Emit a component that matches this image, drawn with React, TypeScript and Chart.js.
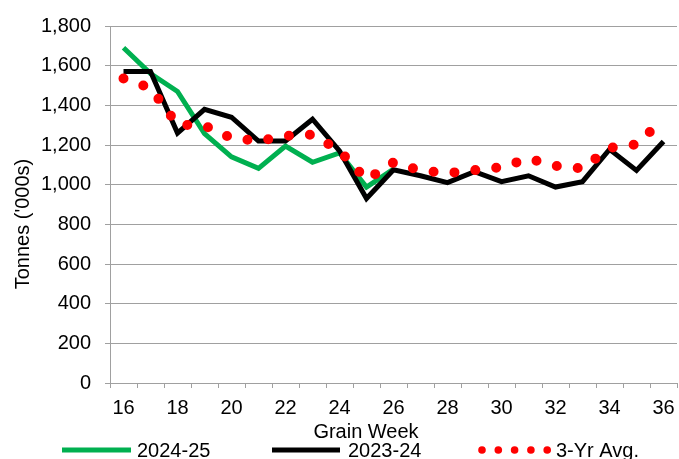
import React, { useEffect, useRef } from 'react';
import { Chart, registerables } from 'chart.js';

Chart.register(...registerables);

const weeks = ['16', '17', '18', '19', '20', '21', '22', '23', '24', '25', '26', '27', '28', '29', '30', '31', '32', '33', '34', '35', '36'];
const season2024 = [1690, 1560, 1470, 1257, 1140, 1082, 1195, 1113, 1160, 988, 1078];
const season2023 = [1570, 1570, 1260, 1380, 1340, 1220, 1220, 1330, 1170, 930, 1075, 1045, 1010, 1065, 1015, 1045, 988, 1015, 1178, 1072, 1218];
const avg3yr = [1535, 1487, 1302, 1298, 1235, 1220, 1246, 1252, 1172, 1025, 1112, 1072, 1058, 1073, 1088, 1132, 1095, 1082, 1185, 1203, 1330];
const yMin = 0;
const yMax = 1800;
const yStep = 200;
const legendLabels = ['2024-25', '2023-24', '3-Yr Avg.'];
const xTitle = 'Grain Week';
const yTitle = "Tonnes ('000s)";

const FONT = "'Liberation Sans', Arial, sans-serif";
const GRID = '#a0a0a0';
const GREEN = '#00b050';
const BLACK = '#000000';
const RED = '#ff0000';

const decorPlugin = {
  id: 'decor',
  afterDraw(chart: any) {
    const ctx = chart.ctx as CanvasRenderingContext2D;
    ctx.save();
    ctx.fillStyle = '#000';
    ctx.font = `20px ${FONT}`;
    ctx.textBaseline = 'alphabetic';
    // x title
    ctx.textAlign = 'center';
    ctx.fillText(xTitle, 366, 438);
    // y title
    ctx.save();
    ctx.translate(29, 224);
    ctx.rotate(-Math.PI / 2);
    ctx.textAlign = 'center';
    ctx.fillText(yTitle, 0, 0);
    ctx.restore();
    // legend
    const ly = 450;
    ctx.lineWidth = 5;
    ctx.lineCap = 'butt';
    ctx.strokeStyle = GREEN;
    ctx.beginPath();
    ctx.moveTo(62, ly);
    ctx.lineTo(131, ly);
    ctx.stroke();
    ctx.strokeStyle = BLACK;
    ctx.beginPath();
    ctx.moveTo(272, ly);
    ctx.lineTo(340, ly);
    ctx.stroke();
    ctx.fillStyle = RED;
    for (let i = 0; i < 5; i++) {
      ctx.beginPath();
      ctx.arc(482 + i * 16.3, ly, 3.8, 0, Math.PI * 2);
      ctx.fill();
    }
    ctx.fillStyle = '#000';
    ctx.textAlign = 'left';
    ctx.fillText(legendLabels[0], 137, 457);
    ctx.fillText(legendLabels[1], 348, 457);
    ctx.fillText(legendLabels[2], 556, 457);
    ctx.restore();
  },
};

export default function App() {
  const ref = useRef<HTMLCanvasElement>(null);
  useEffect(() => {
    document.body.style.margin = '0';
    const chart = new Chart(ref.current as HTMLCanvasElement, {
      type: 'line',
      data: {
        labels: weeks,
        datasets: [
          {
            label: legendLabels[0],
            data: season2024,
            borderColor: GREEN,
            backgroundColor: GREEN,
            borderWidth: 5,
            pointRadius: 0,
            tension: 0,
            order: 2,
          },
          {
            label: legendLabels[1],
            data: season2023,
            borderColor: BLACK,
            backgroundColor: BLACK,
            borderWidth: 5,
            pointRadius: 0,
            tension: 0,
            order: 1,
          },
          {
            label: legendLabels[2],
            data: avg3yr,
            borderColor: RED,
            backgroundColor: RED,
            borderWidth: 10,
            borderDash: [0, 21],
            borderCapStyle: 'round',
            borderJoinStyle: 'round',
            pointRadius: 0,
            tension: 0,
            order: 0,
          },
        ],
      },
      options: {
        animation: false,
        responsive: false,
        layout: { padding: { top: 23, right: 2, left: 0, bottom: 0 } },
        plugins: {
          legend: { display: false },
          tooltip: { enabled: false },
        },
        scales: {
          x: {
            type: 'category',
            offset: true,
            grid: { drawOnChartArea: false, offset: true, tickLength: 5, color: GRID },
            border: { color: GRID },
            ticks: {
              autoSkip: false,
              maxRotation: 0,
              minRotation: 0,
              padding: 8,
              color: '#000',
              font: { family: FONT, size: 20 },
              callback: (_v: any, i: number) => (i % 2 === 0 ? weeks[i] : ''),
            },
            afterFit: (s: any) => {
              s.height = 76;
              s.paddingLeft = 0;
              s.paddingRight = 0;
            },
          },
          y: {
            min: yMin,
            max: yMax,
            grid: { color: GRID, tickLength: 5 },
            border: { color: GRID },
            ticks: {
              stepSize: yStep,
              padding: 14,
              color: '#000',
              font: { family: FONT, size: 20 },
              callback: (v: any) => Number(v).toLocaleString('en-US'),
            },
            afterFit: (s: any) => {
              s.width = 110;
            },
          },
        },
      },
      plugins: [decorPlugin],
    });
    return () => chart.destroy();
  }, []);
  return (
    <div style={{ position: 'fixed', left: 0, top: 0 }}>
      <canvas ref={ref} width={679} height={459} style={{ display: 'block' }} />
    </div>
  );
}
